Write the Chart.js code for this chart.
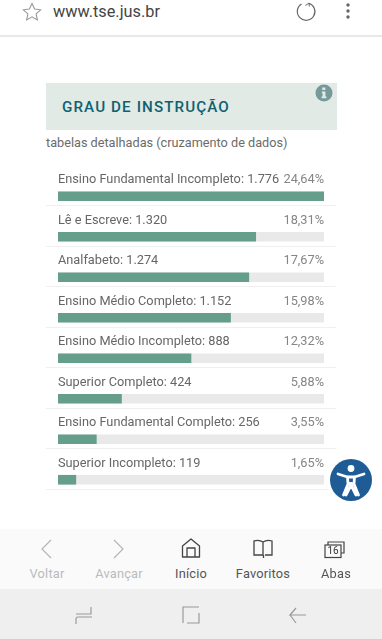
<!DOCTYPE html>
<html lang="pt-BR">
<head>
<meta charset="utf-8">
<title>Grau de instrução</title>
<script src="https://cdn.jsdelivr.net/npm/chart.js@4"></script>
<style>
    html, body { margin: 0; padding: 0; background: #fff; }
    body { position: relative; width: 382px; height: 640px; overflow: hidden; font-family: Roboto, sans-serif; }
    .abs { position: absolute; white-space: nowrap; }
    #url { left: 53px; top: 2px; font-size: 16.3px; line-height: 20px; color: #444; }
    #topline { left: 0; top: 35px; width: 382px; height: 2px; background: #e9e9e9; }
    #head { left: 46px; top: 83px; width: 291px; height: 47px; background: #e1eae5; }
    #title { left: 62px; top: 96.500px; font-size: 15.200px; line-height: 20px; font-weight: 500; letter-spacing: 1.100px; color: #0e6170; }
    #sub { left: 46px; top: 134px; font-size: 12.700px; line-height: 18px; color: #6b6b6b; }
    #wrap { left: 40px; top: 160px; width: 300px; height: 340px; }
    #toolbar { left: 0; top: 529px; width: 382px; height: 60px; background: #fafafa; }
    #navbar { left: 0; top: 589px; width: 382px; height: 50px; background: #efefef; }
    #navline { left: 0; top: 639px; width: 382px; height: 1px; background: #d0d0d0; }
    .tab { top: 566px; font-size: 12.800px; line-height: 16px; letter-spacing: .2px; transform: translateX(-50%); }
    svg.abs { overflow: visible; }
</style>
</head>
<body>
<svg class="abs" style="left:22px;top:2px" width="20" height="20" viewBox="0 0 20 20" fill="none" stroke="#999" stroke-width="1.100">
    <path d="M10 1.500l2.600 5.600 6 .7-4.500 4.100 1.300 6-5.400-3.100-5.400 3.100 1.300-6-4.500-4.100 6-.7z"/>
</svg>
<div class="abs" id="url">www.tse.jus.br</div>
<svg class="abs" style="left:295px;top:0" width="22" height="22" viewBox="0 0 22 22" fill="none" stroke="#666" stroke-width="1.200">
    <path d="M6.500 4a8.800 8.800 0 1 0 7.500 -.8"/>
    <path d="M10.500 5.500l3.500-2.500 .3 3.500" stroke-width="1"/>
</svg>
<svg class="abs" style="left:345px;top:3px" width="6" height="16" fill="#666">
    <circle cx="3" cy="2" r="1.700"/><circle cx="3" cy="8" r="1.700"/><circle cx="3" cy="14" r="1.700"/>
</svg>
<div class="abs" id="topline"></div>

<div class="abs" id="head"></div>
<div class="abs" id="title">GRAU DE INSTRUÇÃO</div>
<svg class="abs" style="left:315px;top:84px" width="18" height="18" viewBox="0 0 18 18">
    <circle cx="9" cy="9" r="8.500" fill="#76999a"/>
    <path d="M7.300 3.500h3v2.500h-3zM6.800 7.500h3.600v5h1v1.800h-4.800v-1.800h1v-3.200h-.8z" fill="#e1eae5"/>
</svg>
<div class="abs" id="sub">tabelas detalhadas (cruzamento de dados)</div>

<div class="abs" id="wrap"><canvas id="chart" width="300" height="340"></canvas></div>

<svg class="abs" style="left:326px;top:455px" width="50" height="50" viewBox="0 0 50 50">
    <circle cx="25" cy="25" r="24" fill="#fff"/>
    <circle cx="25" cy="25" r="21" fill="#1f5c96"/>
    <circle cx="25" cy="13.500" r="3.400" fill="#fff"/>
    <path d="M12 19l9.500 3 .5 7-4.500 11M38 19l-9.500 3-.5 7 4.500 11M21.500 22h7M22 29l3-.5 3 .5M25 30l-5 10M25 30l5 10" fill="none" stroke="#fff" stroke-width="2.800" stroke-linecap="round" stroke-linejoin="round"/>
</svg>

<div class="abs" id="toolbar"></div>
<div class="abs" id="navbar"></div>
<div class="abs" id="navline"></div>
<svg class="abs" style="left:0;top:529px" width="382" height="111" viewBox="0 529 382 111" fill="none">
    <path d="M51 540l-9 9 9 9" stroke="#b5b5b5" stroke-width="1.200"/>
    <path d="M114 540l9 9-9 9" stroke="#b5b5b5" stroke-width="1.200"/>
    <path d="M182.500 557v-11l8.500-7 8.500 7v11zM187 557v-9h8v9" stroke="#444" stroke-width="1.300" stroke-linejoin="round"/>
    <path d="M263 542c-3-2-6-2-9-1v14h9zM263 542c3-2 6-2 9-1v14h-7M263.500 555v3" stroke="#444" stroke-width="1.300"/>
    <rect x="325" y="545" width="16" height="12.500" stroke="#444" stroke-width="1.200"/>
    <path d="M328 545v-3h16v11h-3" stroke="#444" stroke-width="1.200"/>
    <path d="M91 607v7h-15M92 617h-14q-2 0 -2 2v5" stroke="#9a9a9a" stroke-width="1.200"/>
    <path d="M183 623v-16h16M187 623h12v-10" stroke="#9a9a9a" stroke-width="1.200"/>
    <path d="M306 615h-16l6-7M290 615l6 8" stroke="#9a9a9a" stroke-width="1.200"/>
</svg>
<div class="abs" style="left:333px;top:543px;width:16px;text-align:center;font-size:10px;line-height:16px;color:#333;transform:translateX(-8px)">16</div>
<div class="abs tab" style="left:47px;color:#bbb">Voltar</div>
<div class="abs tab" style="left:119px;color:#bbb">Avançar</div>
<div class="abs tab" style="left:191px;color:#555">Início</div>
<div class="abs tab" style="left:263px;color:#555">Favoritos</div>
<div class="abs tab" style="left:336px;color:#555">Abas</div>

<script>
const categories = [
    "Ensino Fundamental Incompleto",
    "Lê e Escreve",
    "Analfabeto",
    "Ensino Médio Completo",
    "Ensino Médio Incompleto",
    "Superior Completo",
    "Ensino Fundamental Completo",
    "Superior Incompleto"
];
const counts = [1776, 1320, 1274, 1152, 888, 424, 256, 119];
const countLabels = ["1.776", "1.320", "1.274", "1.152", "888", "424", "256", "119"];
const percentLabels = ["24,64%", "18,31%", "17,67%", "15,98%", "12,32%", "5,88%", "3,55%", "1,65%"];
const trackValues = [1776, 1776, 1776, 1776, 1776, 1776, 1776, 1776];

// row text and separators sit relative to the bar centre
const rowText = {
    id: "rowText",
    afterDatasetsDraw(chart) {
        const c = chart.ctx;
        const x = chart.scales.x;
        const y = chart.scales.y;
        c.save();
        categories.forEach(function (name, i) {
            const mid = y.getPixelForValue(i);
            c.strokeStyle = "#f0f0f0";
            c.lineWidth = 1;
            c.beginPath();
            c.moveTo(x.left - 12, Math.round(mid + 9) + 0.5);
            c.lineTo(x.right + 12, Math.round(mid + 9) + 0.5);
            c.stroke();

            c.font = "12.750px Roboto";
            c.fillStyle = "#666";
            c.textBaseline = "alphabetic";
            c.textAlign = "left";
            c.fillText(name + ": " + countLabels[i], x.left, mid - 13);
            c.fillStyle = "#858585";
            c.textAlign = "right";
            c.fillText(percentLabels[i], x.right, mid - 13);
        });
        c.restore();
    }
};

new Chart(document.getElementById("chart"), {
    type: "bar",
    data: {
        labels: categories,
        datasets: [
            { data: counts, backgroundColor: "#659f8c", barThickness: 9, grouped: false, order: 1 },
            { data: trackValues, backgroundColor: "#e9e9e9", barThickness: 9, grouped: false, order: 2 }
        ]
    },
    options: {
        indexAxis: "y",
        responsive: false,
        animation: false,
        layout: { padding: { left: 18, right: 16, top: 16, bottom: 0 } },
        plugins: { legend: { display: false }, tooltip: { enabled: false } },
        scales: {
            x: { display: false, min: 0, max: 1776 },
            y: { display: false }
        }
    },
    plugins: [rowText]
});
</script>
</body>
</html>
